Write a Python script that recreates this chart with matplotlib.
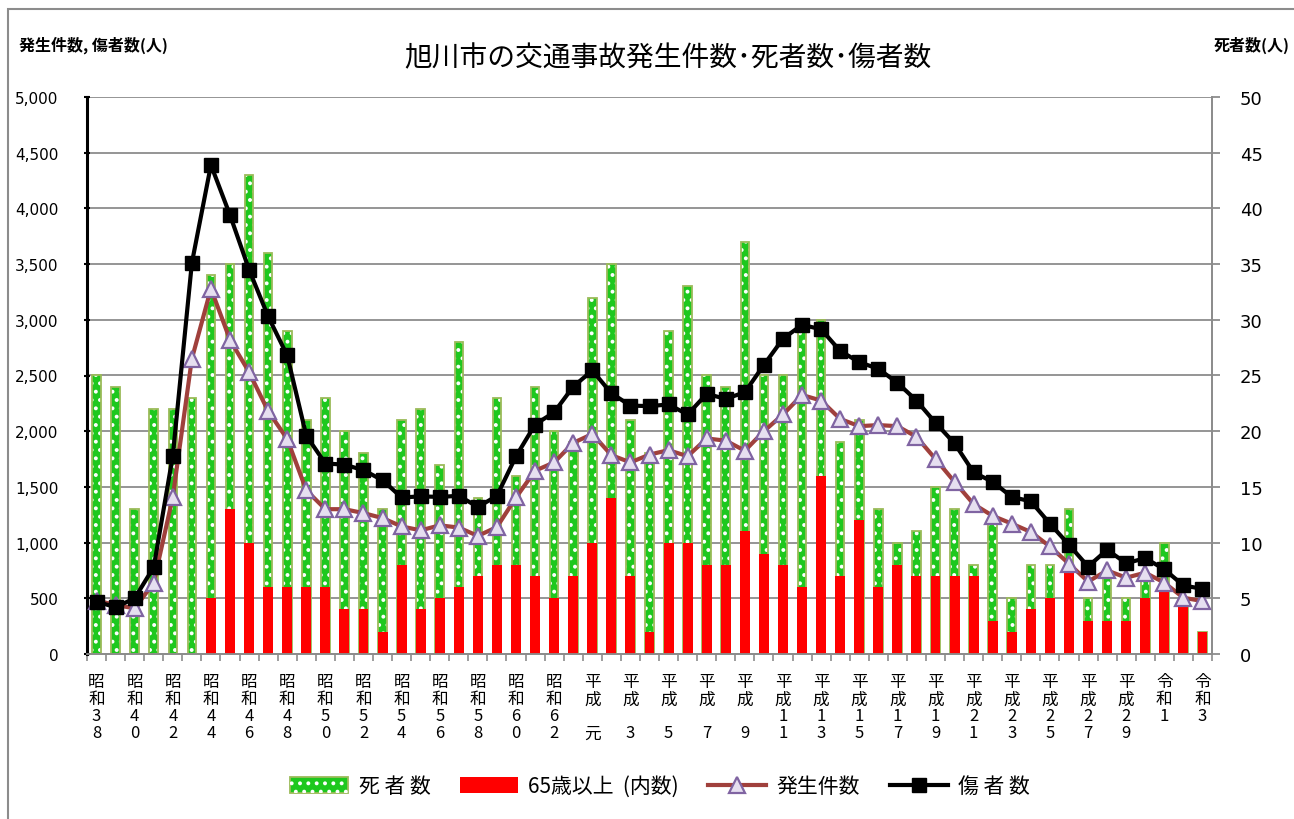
import matplotlib
matplotlib.use("Agg")
import matplotlib.pyplot as plt
import numpy as np
from matplotlib.patches import Patch, Rectangle
from matplotlib.lines import Line2D

plt.rcParams['font.family'] = ['Noto Sans CJK JP', 'DejaVu Sans']
plt.rcParams['hatch.linewidth'] = 1.6

# 昭和38 (1963) .. 令和3 (2021)
years = list(range(1963, 2022))
tick_labels = ["昭\n和\n3\n8", "昭\n和\n4\n0", "昭\n和\n4\n2", "昭\n和\n4\n4", "昭\n和\n4\n6",
               "昭\n和\n4\n8", "昭\n和\n5\n0", "昭\n和\n5\n2", "昭\n和\n5\n4", "昭\n和\n5\n6",
               "昭\n和\n5\n8", "昭\n和\n6\n0", "昭\n和\n6\n2", "平\n成\n\n元", "平\n成\n\n3",
               "平\n成\n\n5", "平\n成\n\n7", "平\n成\n\n9", "平\n成\n1\n1", "平\n成\n1\n3",
               "平\n成\n1\n5", "平\n成\n1\n7", "平\n成\n1\n9", "平\n成\n2\n1", "平\n成\n2\n3",
               "平\n成\n2\n5", "平\n成\n2\n7", "平\n成\n2\n9", "令\n和\n1", "令\n和\n3"]

# 死者数 (right axis)
deaths = [25, 24, 13, 22, 22, 23, 34, 35, 43, 36, 29, 21, 23, 20, 18, 13, 21, 22, 17, 28,
          14, 23, 16, 24, 20, 19, 32, 35, 21, 18, 29, 33, 25, 24, 37, 25, 25, 29, 30, 19,
          21, 13, 10, 11, 15, 13, 8, 12, 5, 8, 8, 13, 5, 7, 5, 7, 10, 5, 2]
# 65歳以上 (内数), no data before 1969
elderly = [None, None, None, None, None, None, 5, 13, 10, 6, 6, 6, 6, 4, 4, 2, 8, 4, 5, 6,
           7, 8, 8, 7, 5, 7, 10, 14, 7, 2, 10, 10, 8, 8, 11, 9, 8, 6, 16, 7,
           12, 6, 8, 7, 7, 7, 7, 3, 2, 4, 5, 8, 3, 3, 3, 5, 6, 5, 2]
# 発生件数 (left axis)
accidents = [480, 440, 410, 640, 1410, 2650, 3280, 2820, 2530, 2180, 1930, 1470, 1300, 1300,
             1265, 1220, 1145, 1110, 1155, 1135, 1060, 1140, 1405, 1645, 1720, 1895, 1975,
             1785, 1720, 1790, 1830, 1775, 1935, 1915, 1825, 2000, 2150, 2325, 2275, 2110,
             2045, 2055, 2045, 1950, 1750, 1545, 1345, 1240, 1170, 1095, 965, 810, 650, 750,
             685, 730, 640, 505, 475]
# 傷者数 (left axis)
injured = [470, 420, 500, 780, 1780, 3510, 4390, 3940, 3450, 3030, 2680, 1960, 1710, 1700,
           1650, 1560, 1405, 1415, 1410, 1420, 1320, 1420, 1775, 2060, 2170, 2400, 2545,
           2340, 2230, 2225, 2240, 2150, 2335, 2290, 2350, 2595, 2830, 2955, 2915, 2720,
           2620, 2560, 2435, 2275, 2075, 1890, 1630, 1545, 1410, 1370, 1170, 980, 785, 935,
           815, 860, 760, 615, 585]

x = np.arange(len(years))
eld = np.array([np.nan if v is None else v for v in elderly], dtype=float)
has_eld = ~np.isnan(eld)

green = '#1ec81e'
green_edge = '#9bbb59'
grid_c = '#8c8c8c'

fig = plt.figure(figsize=(12.94, 8.2), dpi=100)
ax = fig.add_axes([87/1294, 165/820, 1125/1294, 557/820])
axr = ax.twinx()
ax.set_zorder(axr.get_zorder() + 1)
ax.patch.set_visible(False)

# bars on the right axis
axr.bar(x, deaths, width=0.45, color=green, edgecolor='none', zorder=2)
axr.bar(x, deaths, width=0.45, fill=False, hatch='..', edgecolor='white', linewidth=0, zorder=3)
axr.bar(x, deaths, width=0.45, fill=False, edgecolor=green_edge, linewidth=1.3, zorder=4)
axr.bar(x[has_eld], eld[has_eld], width=0.52, color='#ff0000', edgecolor='none', zorder=5)

axr.set_ylim(0, 50)
axr.set_yticks(np.arange(0, 51, 5))
axr.grid(axis='y', color=grid_c, linewidth=1.3)
axr.set_axisbelow(True)
axr.tick_params(axis='y', labelsize=13, length=6, color=grid_c, width=1.3, pad=14)
for lab in axr.get_yticklabels():
    lab.set_family('DejaVu Sans')

# lines on the left axis
ax.plot(x, accidents, color='#a0403c', lw=3, marker='^', ms=12,
        mfc='#e6dff0', mec='#8064a2', mew=1.6, zorder=5)
ax.plot(x, injured, color='black', lw=3, marker='s', ms=10, zorder=6)

ax.set_ylim(0, 5000)
ax.set_yticks(np.arange(0, 5001, 500))
ax.set_yticklabels([f"{v:,}" for v in range(0, 5001, 500)], family='DejaVu Sans')
ax.tick_params(axis='y', labelsize=11, length=5, direction='inout', width=1.5, pad=18)

ax.set_xlim(-0.5, len(years) - 0.5)
ax.set_xticks(x[::2])
ax.set_xticklabels(tick_labels, fontsize=12, linespacing=1.0, va='top')
ax.tick_params(axis='x', length=0, pad=14)
ax.set_xticks(np.arange(-0.5, len(years), 1), minor=True)
ax.tick_params(axis='x', which='minor', length=5, color=grid_c, width=1.2)

for a in (ax, axr):
    a.spines['top'].set_visible(False)
    a.spines['bottom'].set_color(grid_c)
    a.spines['bottom'].set_linewidth(1.3)
    a.spines['right'].set_color(grid_c)
    a.spines['right'].set_linewidth(1.3)
ax.spines['left'].set_color('black')
ax.spines['left'].set_linewidth(2.2)
axr.spines['left'].set_visible(False)

fig.text(0.516, 0.929, "旭川市の交通事故発生件数･死者数･傷者数", ha='center', va='center', fontsize=20)
fig.text(0.015, 0.945, "発生件数, 傷者数(人)", ha='left', va='center', fontsize=11.5, fontweight='bold')
fig.text(0.997, 0.945, "死者数(人)", ha='right', va='center', fontsize=11.5, fontweight='bold')

handles = [
    (Patch(facecolor=green, edgecolor=green_edge, linewidth=1.3),
     Patch(fill=False, hatch='..', edgecolor='white', linewidth=0)),
    Patch(facecolor='#ff0000', edgecolor='none'),
    Line2D([], [], color='#a0403c', lw=3, marker='^', ms=12, mfc='#e6dff0', mec='#8064a2', mew=1.6),
    Line2D([], [], color='black', lw=3, marker='s', ms=10),
]
labels = ["死 者 数", "65歳以上  (内数)", "発生件数", "傷 者 数"]
fig.legend(handles, labels, loc='center', bbox_to_anchor=(0.51, 0.04), ncol=4, frameon=False,
           fontsize=15, handlelength=2.8, handleheight=0.8, handletextpad=0.5, columnspacing=1.4)

fig.add_artist(Rectangle((8/1294, -0.1), 1.5, 1.1 - 10/820, transform=fig.transFigure,
                         fill=False, edgecolor='#8c8c8c', linewidth=1.5))

fig.savefig("out.png", dpi=100)
